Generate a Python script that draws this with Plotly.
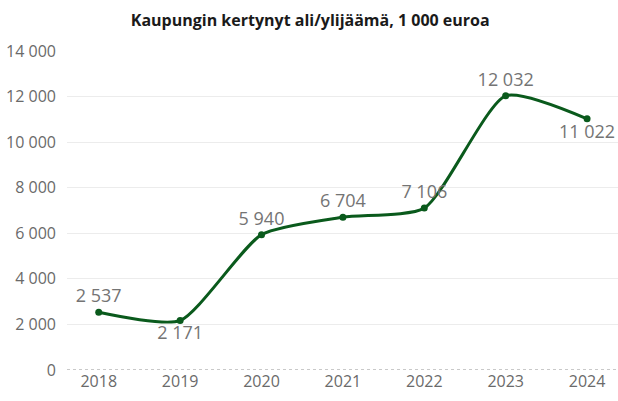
import plotly.graph_objects as go

years = ["2018", "2019", "2020", "2021", "2022", "2023", "2024"]
values = [2537, 2171, 5940, 6704, 7106, 12032, 11022]
label_pos = ["top center", "bottom center", "top center", "top center", "top center", "top center", "bottom center"]
y_ticks = [0, 2000, 4000, 6000, 8000, 10000, 12000, 14000]

def fmt(v):
    return f"{v:,}".replace(",", " ")

FONT = "Open Sans, sans-serif"
GREEN = "#0a5a1c"

fig = go.Figure()
fig.add_trace(go.Scatter(
    x=years, y=values, mode="lines+markers+text",
    line=dict(color=GREEN, width=3, shape="spline", smoothing=0.6),
    marker=dict(color=GREEN, size=7),
    text=[fmt(v) for v in values], textposition=label_pos,
    textfont=dict(family=FONT, size=18, color="#747474"),
    cliponaxis=False, hoverinfo="skip",
))

fig.update_layout(
    width=618, height=401,
    margin=dict(l=67, r=0, t=51, b=31),
    plot_bgcolor="white", paper_bgcolor="white",
    showlegend=False,
    title=dict(text="<b>Kaupungin kertynyt ali/ylijäämä, 1 000 euroa</b>", x=0.502, xanchor="center",
               y=0.95, yanchor="middle",
               font=dict(family=FONT, size=16, color="#1a1a1a")),
    xaxis=dict(type="category", range=[-0.39, 6.38], showgrid=False, showline=False, ticks="",
               tickfont=dict(family=FONT, size=16, color="#6a6a6a")),
    yaxis=dict(range=[0, 14000], tickvals=y_ticks, ticktext=[fmt(v) for v in y_ticks],
               showgrid=True, gridcolor="#ececec", gridwidth=1, zeroline=False, showline=False,
               ticks="", ticklabelstandoff=10,
               tickfont=dict(family=FONT, size=16, color="#6a6a6a")),
    shapes=[dict(type="line", xref="paper", yref="y", x0=0, x1=1, y0=0, y1=0,
                 line=dict(color="#b8b8b8", width=1.5, dash="3px,3px"))],
)

fig.write_html("out.html", config={"displayModeBar": False},
               post_script="document.body.style.margin='0';")
